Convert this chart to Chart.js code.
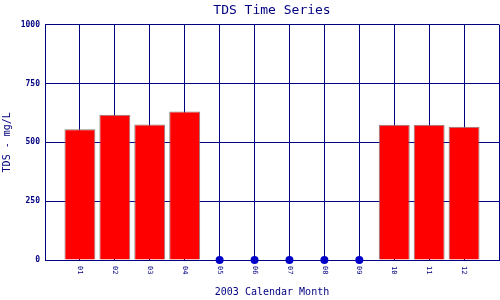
<!DOCTYPE html>
<html>
<head>
<meta charset="utf-8">
<script src="https://cdn.jsdelivr.net/npm/chart.js@4.4.1/dist/chart.umd.min.js"></script>
<style>
  html, body { margin: 0; padding: 0; background: #fff; }
  #wrap { width: 500px; height: 300px; }
</style>
</head>
<body>
<div id="wrap"><canvas id="tdsChart"></canvas></div>
<script>
// Months, with a blank slot at each end so the plot has a full month of padding
const months = ['', '01', '02', '03', '04', '05', '06', '07', '08', '09', '10', '11', '12', ''];
// TDS (mg/L) per month, null where there was no sample
const tdsValues = [null, 555, 617, 576, 631, null, null, null, null, null, 575, 575, 566, null];
// Months with no data are marked with a dot on the zero line
const missingMarks = [null, null, null, null, null, 0, 0, 0, 0, 0, null, null, null, null];
const yTicks = [0, 250, 500, 750, 1000];

const navy = '#000080';
const mono = 'DejaVu Sans Mono';

// Draw the month labels turned clockwise (reading top to bottom)
const monthLabels = {
    id: 'monthLabels',
    afterDraw(chart) {
        const ctx = chart.ctx;
        const xScale = chart.scales.x;
        ctx.save();
        ctx.fillStyle = navy;
        ctx.font = '7px "' + mono + '"';
        ctx.textAlign = 'left';
        ctx.textBaseline = 'middle';
        months.forEach(function(m, i) {
            if (!m) return;
            const x = xScale.getPixelForTick(i);
            ctx.save();
            ctx.translate(x, chart.chartArea.bottom + 6);
            ctx.rotate(Math.PI / 2);
            ctx.fillText(m, 0, 0);
            ctx.restore();
        });
        ctx.restore();
    }
};

new Chart(document.getElementById('tdsChart'), {
    type: 'bar',
    data: {
        labels: months,
        datasets: [{
            type: 'line',
            data: missingMarks,
            showLine: false,
            pointRadius: 4,
            pointBackgroundColor: '#0000c8',
            pointBorderColor: '#0000c8',
            pointBorderWidth: 0,
            clip: false,
            order: 0
        }, {
            data: tdsValues,
            backgroundColor: '#ff0000',
            borderColor: '#808080',
            borderWidth: 1,
            barPercentage: 0.886,
            categoryPercentage: 1,
            order: 1
        }]
    },
    options: {
        responsive: true,
        maintainAspectRatio: false,
        animation: false,
        layout: { autoPadding: false, padding: { right: 1 } },
        plugins: {
            legend: { display: false },
            tooltip: { enabled: false },
            title: {
                display: true,
                fullSize: false, // centre over the plot, not the whole canvas
                text: 'TDS Time Series',
                color: navy,
                font: { family: mono, size: 13, weight: 'normal', lineHeight: 1.2 },
                padding: { top: 3, bottom: 6 }
            }
        },
        scales: {
            x: {
                offset: false,
                grid: { color: navy, lineWidth: 1, offset: false, drawTicks: false },
                border: { color: navy, width: 1 },
                ticks: { display: false },
                title: {
                    display: true,
                    text: '2003 Calendar Month',
                    color: navy,
                    font: { family: mono, size: 10 },
                    padding: { top: 0, bottom: 2 }
                },
                afterFit: function(scale) { scale.height = 40; }
            },
            y: {
                min: 0,
                max: 1000,
                afterBuildTicks: function(scale) {
                    scale.ticks = yTicks.map(function(v) { return { value: v }; });
                },
                grid: { color: navy, lineWidth: 1, drawTicks: false },
                border: { color: navy, width: 1 },
                ticks: {
                    color: navy,
                    padding: 5,
                    font: { family: mono, size: 8, weight: 'bold' },
                    callback: function(v) { return String(v); }
                },
                title: {
                    display: true,
                    text: 'TDS - mg/L',
                    color: navy,
                    font: { family: mono, size: 10 },
                    padding: { top: 1, bottom: 0 }
                },
                afterFit: function(scale) { scale.width = 45; }
            }
        }
    },
    plugins: [monthLabels]
});
</script>
</body>
</html>
